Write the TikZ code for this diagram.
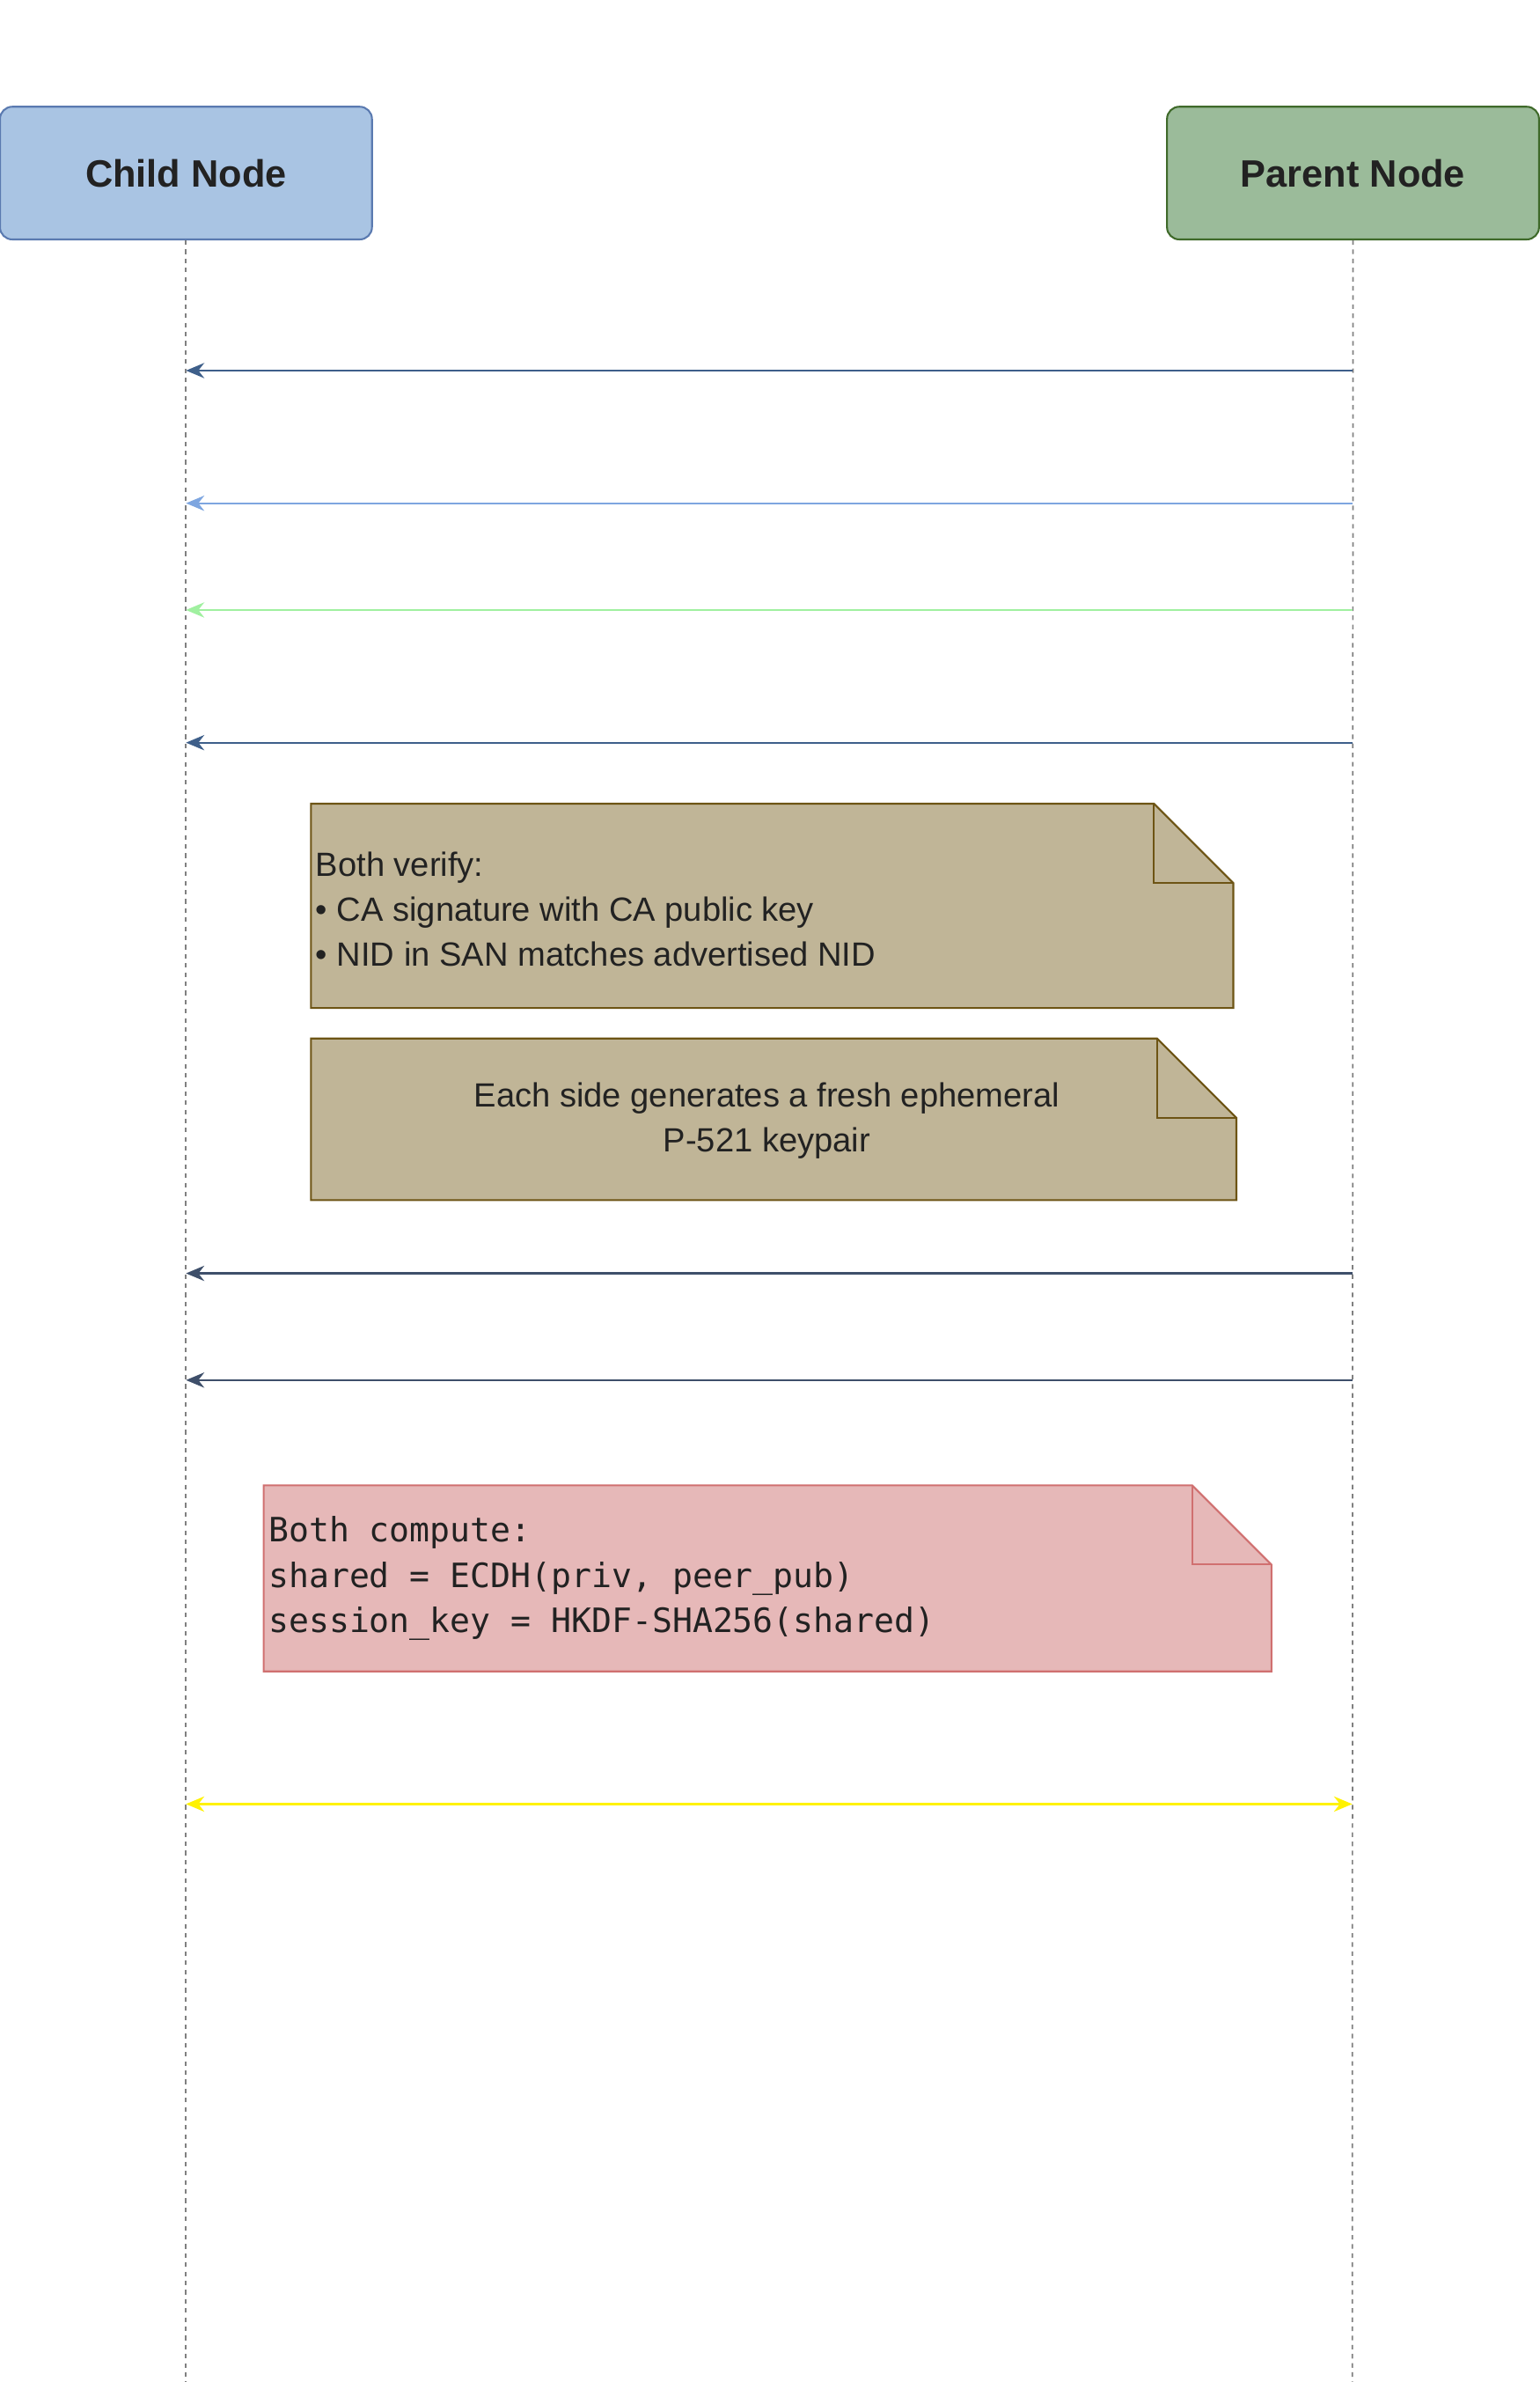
\documentclass[tikz,border=0pt]{standalone}
\usepackage{fontspec}
\usetikzlibrary{arrows.meta}
\setmainfont{Liberation Sans}
\setmonofont{DejaVu Sans Mono}
\definecolor{cfill}{HTML}{A9C4E3}\definecolor{cdraw}{HTML}{5A7AB0}
\definecolor{pfill}{HTML}{9BBB9A}\definecolor{pdraw}{HTML}{3F6A2A}
\definecolor{nfill}{HTML}{C0B597}\definecolor{ndraw}{HTML}{6D5414}
\definecolor{rfill}{HTML}{E6B8B8}\definecolor{rdraw}{HTML}{D07070}
\definecolor{dblue}{HTML}{3E5F8A}\definecolor{lblue}{HTML}{7EA6E0}
\definecolor{lgreen}{HTML}{A0F0A0}\definecolor{dslate}{HTML}{3E4F6A}
\definecolor{txt}{HTML}{222222}
\begin{document}
\begin{tikzpicture}[x=1pt,y=-1pt,
 actor/.style={draw,line width=1.2pt,rounded corners=8pt,minimum width=244pt,minimum height=87pt,inner sep=0pt,font=\fontsize{25}{30}\selectfont\bfseries,text=txt},
 life/.style={dashed,gray,line width=1pt},
 msg/.style={line width=1.3pt,-{Stealth[length=12pt,width=10pt]}},
 txtn/.style={text=txt,font=\fontsize{22}{29.5}\selectfont,inner sep=0pt}]
\useasboundingbox (0,0) rectangle (1010,1562);
\node[actor,fill=cfill,draw=cdraw] (child) at (122,113.5) {Child Node};
\node[actor,fill=pfill,draw=pdraw] (parent) at (887.5,113.5) {Parent Node};
\coordinate (cb) at (122,1562); \coordinate (pb) at (887,1562);
\draw[life] (child.south) -- (cb);
\draw[life] (parent.south) -- (pb);
\foreach \y/\c/\d in {243/dblue/r,330/lblue/r,400/lgreen/l,487/dblue/r,835/dslate/r,905/dslate/l}{
 \coordinate (a\y) at (122,\y); \coordinate (b\y) at (887,\y);
 \ifx r\d \draw[msg,\c] (a\y) -- (b\y); \else \draw[msg,\c] (b\y) -- (a\y); \fi}
\coordinate (a1183) at (122,1183); \coordinate (b1183) at (887,1183);
\draw[line width=1.3pt,yellow,{Stealth[length=12pt,width=10pt]}-{Stealth[length=12pt,width=10pt]}] (a1183) -- (b1183);
% note 1
\draw[fill=nfill,draw=ndraw,line width=1.2pt] (204,527) -- (757,527) -- (809,579) -- (809,661) -- (204,661) -- cycle;
\draw[draw=ndraw,line width=1.2pt] (757,527) -- (757,579) -- (809,579);
\node[txtn,anchor=west,align=left] (n1) at (207,596) {Both verify:\\• CA signature with CA public key\\• NID in SAN matches advertised NID};
% note 2
\draw[fill=nfill,draw=ndraw,line width=1.2pt] (204,681) -- (759,681) -- (811,733) -- (811,787) -- (204,787) -- cycle;
\draw[draw=ndraw,line width=1.2pt] (759,681) -- (759,733) -- (811,733);
\node[txtn,align=center] (n2) at (503,735) {Each side generates a fresh ephemeral\\P-521 keypair};
% note 3
\draw[fill=rfill,draw=rdraw,line width=1.2pt] (173,974) -- (782,974) -- (834,1026) -- (834,1096) -- (173,1096) -- cycle;
\draw[draw=rdraw,line width=1.2pt] (782,974) -- (782,1026) -- (834,1026);
\node[txtn,anchor=west,align=left,font=\ttfamily\fontsize{22}{29.5}\selectfont] (n3) at (176,1035) {Both compute:\\shared = ECDH(priv, peer\_pub)\\session\_key = HKDF-SHA256(shared)};
\end{tikzpicture}
\end{document}
